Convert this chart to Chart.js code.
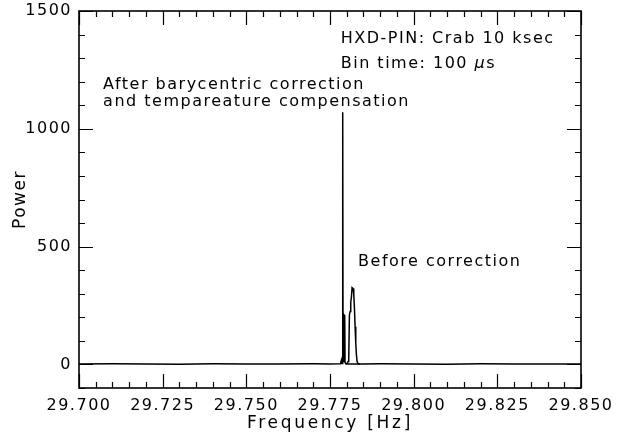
<!DOCTYPE html>
<html>
<head>
<meta charset="utf-8">
<style>
  html, body { margin: 0; padding: 0; background: #ffffff; }
  #wrap { width: 624px; height: 436px; }
</style>
<script src="https://cdn.jsdelivr.net/npm/chart.js@4/dist/chart.umd.min.js"></script>
</head>
<body>
<div id="wrap"><canvas id="c" width="624" height="436"></canvas></div>
<script>
// Axis tick labels
const freqTicks = [29.700, 29.725, 29.750, 29.775, 29.800, 29.825, 29.850];
const powerTicks = [0, 500, 1000, 1500];

// Power spectrum after barycentric correction and temperature compensation
const afterFreq = [29.700, 29.710, 29.720, 29.730, 29.740, 29.750, 29.760, 29.770, 29.775,
  29.7780, 29.7782, 29.7784, 29.7785, 29.7787, 29.7788, 29.7789, 29.7791, 29.7792, 29.7794, 29.7795, 29.7798,
  29.785, 29.790, 29.800, 29.810, 29.820, 29.830, 29.840, 29.850];
const afterPower = [2, 3, 2, 1, 3, 2, 2, 3, 2,
  3, 8, 18, 6, 4, 1070, 40, 10, 210, 205, 8, 2,
  2, 3, 2, 1, 3, 2, 2, 2];

// Power spectrum before correction
const beforeFreq = [29.7798, 29.7802, 29.7804, 29.7806, 29.7808, 29.7810, 29.7812, 29.7814, 29.7816,
  29.7819, 29.7821, 29.7823, 29.7825, 29.7827, 29.7829, 29.7831, 29.7834, 29.7840];
const beforePower = [2, 6, 12, 25, 210, 225, 265, 285, 326,
  322, 300, 240, 160, 90, 40, 12, 3, 2];

const FONT = 'DejaVu Sans';
const SPACING = '1.5px';
const TITLE_SPACING = '2.7px';

const toPoints = (xs, ys) => xs.map((x, i) => ({ x: x, y: ys[i] }));

// Frame, inward major/minor ticks on all four sides, and the text notes
const framePlugin = {
  id: 'frame',
  beforeDraw(chart) {
    chart.ctx.letterSpacing = SPACING;
    const xs = chart.scales.x;
    if (xs && !xs._wideTitle) {
      const drawTitle = xs.drawTitle.bind(xs);
      xs.drawTitle = function () {
        const c = this.ctx;
        const prev = c.letterSpacing;
        c.letterSpacing = TITLE_SPACING;
        drawTitle();
        c.letterSpacing = prev;
      };
      xs._wideTitle = true;
    }
  },
  afterDraw(chart) {
    const { ctx, chartArea: a, scales: { x, y } } = chart;
    ctx.save();
    ctx.strokeStyle = '#000';
    ctx.lineWidth = 1.2;
    ctx.beginPath();
    const xMinorStep = 0.005, yMinorStep = 100;
    for (let i = 0; i <= Math.round((x.max - x.min) / xMinorStep); i++) {
      const v = x.min + i * xMinorStep;
      const px = Math.round(x.getPixelForValue(v)) + 0.5;
      const major = i % 5 === 0;
      const len = major ? 14 : 6;
      ctx.moveTo(px, a.bottom); ctx.lineTo(px, a.bottom - len);
      ctx.moveTo(px, a.top); ctx.lineTo(px, a.top + len);
    }
    for (let i = 0; i <= Math.round((y.max - y.min) / yMinorStep); i++) {
      const v = y.min + i * yMinorStep;
      const py = Math.round(y.getPixelForValue(v)) + 0.5;
      const major = v % 500 === 0;
      const len = major ? 14 : 6;
      ctx.moveTo(a.left, py); ctx.lineTo(a.left + len, py);
      ctx.moveTo(a.right, py); ctx.lineTo(a.right - len, py);
    }
    ctx.stroke();
    ctx.lineWidth = 1.6;
    ctx.strokeRect(a.left, a.top, a.right - a.left, a.bottom - a.top);

    // notes
    ctx.fillStyle = '#000';
    ctx.letterSpacing = SPACING;
    ctx.textBaseline = 'middle';
    ctx.textAlign = 'left';
    ctx.font = '16px "' + FONT + '"';
    const note = (fx, py, txt) => {
      ctx.fillText(txt, x.getPixelForValue(fx), y.getPixelForValue(py));
    };
    note(29.7782, 1383, 'HXD-PIN: Crab 10 ksec');
    // "Bin time: 100 μs" with an italic mu
    const bx = x.getPixelForValue(29.7782), by = y.getPixelForValue(1277);
    const head = 'Bin time: 100 ';
    ctx.fillText(head, bx, by);
    let w = ctx.measureText(head).width;
    ctx.font = 'italic 16px "' + FONT + '"';
    ctx.fillText('\u03bc', bx + w, by);
    w += ctx.measureText('\u03bc').width;
    ctx.font = '16px "' + FONT + '"';
    ctx.fillText('s', bx + w, by);
    note(29.7072, 1186, 'After barycentric correction');
    note(29.7072, 1114, 'and tempareature compensation');
    note(29.7834, 434, 'Before correction');
    ctx.restore();
  }
};

new Chart(document.getElementById('c'), {
  type: 'line',
  data: {
    datasets: [
      {
        label: 'After correction',
        data: toPoints(afterFreq, afterPower),
        borderColor: '#000',
        borderWidth: 1.5,
        pointRadius: 0,
        tension: 0,
        fill: false
      },
      {
        label: 'Before correction',
        data: toPoints(beforeFreq, beforePower),
        borderColor: '#000',
        borderWidth: 1.5,
        pointRadius: 0,
        tension: 0,
        fill: false
      }
    ]
  },
  options: {
    responsive: false,
    animation: false,
    devicePixelRatio: 1,
    layout: { padding: { top: 11, right: 43, left: 0, bottom: 0 } },
    plugins: { legend: { display: false }, tooltip: { enabled: false } },
    scales: {
      x: {
        type: 'linear',
        min: 29.700,
        max: 29.850,
        grid: { display: false, drawTicks: false },
        border: { display: false },
        afterBuildTicks(scale) { scale.ticks = freqTicks.map(v => ({ value: v })); },
        afterFit(scale) {
          scale.height = 48;
          scale.paddingLeft = 0;
          scale.paddingRight = 0;
        },
        ticks: {
          autoSkip: false,
          maxRotation: 0,
          padding: 8,
          color: '#000',
          font: { family: FONT, size: 16 },
          callback: v => Number(v).toFixed(3)
        },
        title: {
          display: true,
          text: 'Frequency [Hz]',
          color: '#000',
          font: { family: FONT, size: 17 },
          padding: { top: 0, bottom: 2 }
        }
      },
      y: {
        min: -100,
        max: 1500,
        grid: { display: false, drawTicks: false },
        border: { display: false },
        afterBuildTicks(scale) { scale.ticks = powerTicks.map(v => ({ value: v })); },
        afterFit(scale) {
          scale.width = 79;
          scale.paddingTop = 0;
          scale.paddingBottom = 0;
        },
        ticks: {
          padding: 7,
          color: '#000',
          font: { family: FONT, size: 16 },
          callback: v => String(v)
        },
        title: {
          display: true,
          text: 'Power',
          color: '#000',
          font: { family: FONT, size: 17 },
          padding: { top: 10, bottom: 0 }
        }
      }
    }
  },
  plugins: [framePlugin]
});
</script>
</body>
</html>
